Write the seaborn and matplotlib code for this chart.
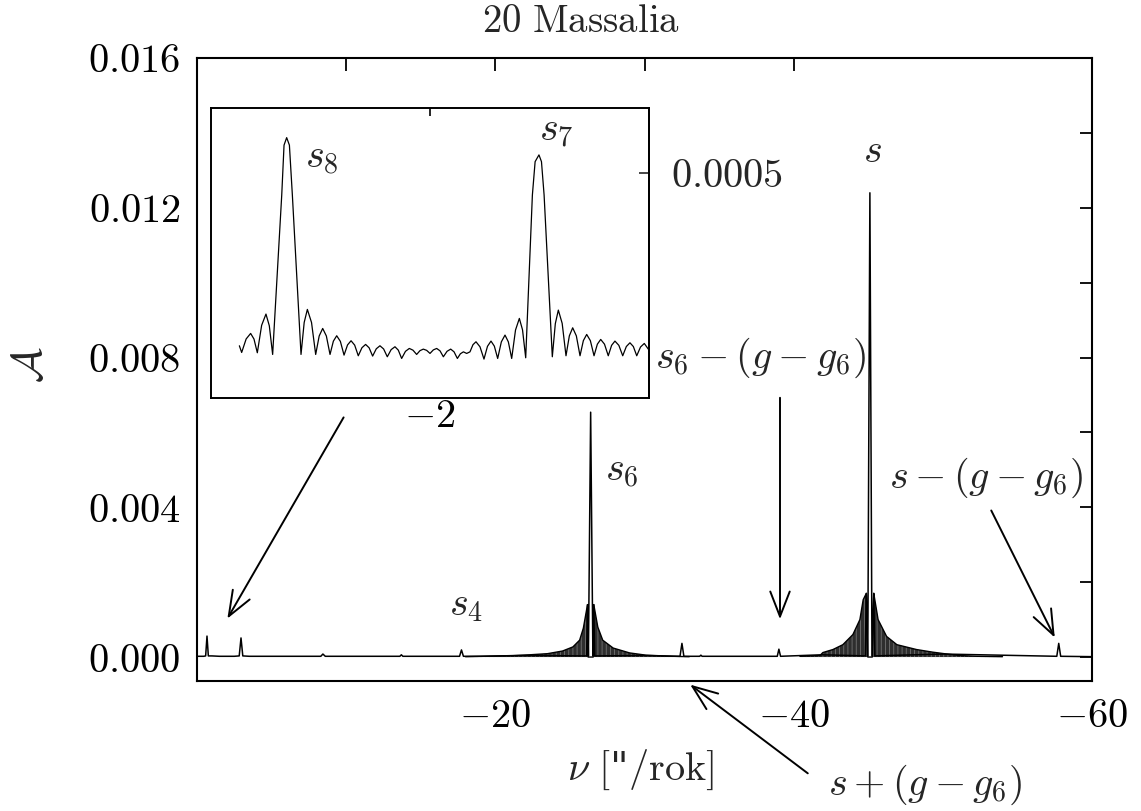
import numpy as np
import pandas as pd
import matplotlib
matplotlib.use("Agg")
import matplotlib.pyplot as plt
import seaborn as sns

# ---------------- data ----------------
# main spectrum line: frequency nu ["/rok] and amplitude A
main_nu = [0.0, -0.45, -0.58, -0.67, -0.76, -1.0, -1.5, -2.0, -2.5, -2.83, -2.95, -3.07,
           -3.5, -5.0, -8.3, -8.44, -8.6, -13.6, -13.7, -13.8, -17.6, -17.73, -17.86,
           -19.0, -22.0, -26.12, -26.18, -26.24, -26.39, -26.54, -26.60, -26.66,
           -30.0, -32.38, -32.51, -32.64, -33.7, -33.78, -33.86, -38.9, -39.01, -39.12,
           -41.9, -44.80, -44.87, -44.97, -45.11, -45.25, -45.37, -45.44, -50.0,
           -57.64, -57.77, -57.9, -60.0]
main_amp = [0.00002, 0.00002, 0.00003, 0.00056, 0.00003, 0.00003, 0.00002, 0.00002, 0.00002,
            0.00003, 0.00051, 0.00003, 0.00002, 0.00002, 0.00002, 0.00008, 0.00002, 0.00002,
            0.00006, 0.00002, 0.00002, 0.00019, 0.00002, 0.00002, 0.00004, 0.00003, 0.0014,
            0.00003, 0.00654, 0.00003, 0.0014, 0.00003, 0.00004, 0.00002, 0.000365, 0.00002,
            0.00002, 0.00005, 0.00002, 0.00002, 0.00021, 0.00002, 0.00006, 0.00003, 0.0017,
            0.00003, 0.0124, 0.00003, 0.0017, 0.00003, 0.00008, 0.00002, 0.000365, 0.00002,
            0.00001]

# envelope of the dense side-lobe region around s6
s6_env_nu = [-18.0, -19.0, -21.2, -22.3, -23.5, -24.5, -25.2, -25.65, -25.9, -26.18, -26.22,
             -26.56, -26.60, -26.87, -27.2, -27.9, -29.0, -30.1, -31.9, -33.0]
s6_env_amp = [0.00001, 0.00002, 0.00004, 0.00006, 0.00009, 0.00016, 0.00027, 0.00045, 0.00077,
              0.0014, 0.0, 0.0, 0.0014, 0.0008, 0.00045, 0.00024, 0.00011, 0.00005, 0.00002, 0.00001]

# envelope of the dense side-lobe region around s
s_env_nu = [-40.42, -41.76, -41.96, -42.63, -43.30, -43.97, -44.44, -44.66, -44.87, -44.97,
            -45.27, -45.37, -45.44, -45.66, -46.23, -46.92, -48.24, -49.33, -50.47, -51.14,
            -52.28, -54.0]
s_env_amp = [0.00002, 0.00004, 0.00012, 0.0002, 0.00033, 0.0006, 0.001, 0.00153, 0.0017, 0.0,
             0.0, 0.0017, 0.00153, 0.001, 0.00055, 0.00033, 0.0002, 0.00013, 0.00007, 0.00004,
             0.00002, 0.00001]

# inset: zoom on the s8 / s7 region (amplitudes in units of 1e-5)
inset_nu = [
    -0.259, -0.280, -0.321, -0.362, -0.3925, -0.423, -0.4625, -0.502, -0.5325, -0.563,
    -0.646, -0.667, -0.691, -0.716, -0.743, -0.822,
    -0.851, -0.880, -0.918, -0.956, -0.988, -1.020, -1.0535, -1.087,
    -1.1175, -1.148, -1.1815, -1.215, -1.247, -1.279, -1.312, -1.345,
    -1.3785, -1.412, -1.444, -1.476, -1.5095, -1.543, -1.5765, -1.610,
    -1.645, -1.680, -1.7105, -1.741, -1.776, -1.811, -1.8445, -1.878,
    -1.9085, -1.939, -1.9695, -2.000, -2.0305, -2.061, -2.0915, -2.122,
    -2.1555, -2.189, -2.2195, -2.250, -2.2775, -2.305, -2.335, -2.365,
    -2.3925, -2.420, -2.4565, -2.493, -2.525, -2.557, -2.5875, -2.618,
    -2.6515, -2.685, -2.7155, -2.746, -2.781, -2.816, -2.845, -2.874,
    -2.935, -2.960, -2.995, -3.018, -3.042, -3.117,
    -3.1445, -3.172, -3.207, -3.242, -3.2725, -3.303, -3.3365, -3.370,
    -3.4005, -3.431, -3.4645, -3.498, -3.5285, -3.559, -3.5935, -3.628,
    -3.6585, -3.689, -3.7245, -3.760, -3.793, -3.826, -3.857, -3.888,
    -3.9225, -3.957, -4.0]
inset_amp_e5 = [
    3.82, 2.04, 5.64, 7.11, 5.62, 1.96, 9.28, 12.27, 9.15, 1.51,
    44.0, 57.3, 59.3, 57.3, 44.0, 1.51,
    10.03, 13.51, 10.03, 1.51, 6.43, 8.44, 6.43, 1.51,
    5.05, 6.49, 4.99, 1.33, 4.05, 5.16, 4.00, 1.16,
    3.30, 4.18, 3.28, 1.07, 3.02, 3.82, 2.97, 0.89,
    2.79, 3.56, 2.66, 0.44, 2.34, 3.11, 2.65, 1.51,
    2.52, 2.93, 2.60, 1.78, 2.72, 3.11, 2.47, 0.89,
    2.34, 2.93, 2.21, 0.44, 1.69, 2.20, 1.78, 2.20,
    4.11, 4.89, 3.55, 0.27, 3.68, 5.07, 3.73, 0.44,
    4.86, 6.67, 4.86, 0.44, 8.02, 11.11, 8.07, 0.62,
    44.0, 52.9, 54.7, 52.9, 44.0, 0.89,
    9.72, 13.33, 9.80, 1.16, 6.46, 8.62, 6.46, 1.16,
    5.19, 6.84, 5.19, 1.16, 4.25, 5.51, 4.25, 1.16,
    3.94, 5.07, 3.94, 1.16, 3.62, 4.62, 3.62, 1.16,
    3.49, 4.44, 2.67]

x_ticks = [-10, -20, -30, -40, -60]
x_ticklabels = ["", "-20", "", "-40", "-60"]
y_ticks = [0.000, 0.002, 0.004, 0.006, 0.008, 0.010, 0.012, 0.014, 0.016]
y_ticklabels = ["0.000", "", "0.004", "", "0.008", "", "0.012", "", "0.016"]

# ---------------- style ----------------
sns.set_style("white")
plt.rcParams.update({
    "font.family": ["DejaVu Serif", "DejaVu Sans"],
    "mathtext.fontset": "cm",
    "axes.linewidth": 1.5,
    "xtick.direction": "in",
    "ytick.direction": "in",
    "hatch.linewidth": 0.6,
})

W, H = 1141, 811
fig = plt.figure(figsize=(W / 100, H / 100), dpi=100)


def fx(x):
    return x / W


def fy(y):
    return 1 - y / H


FS = 29

ax = fig.add_axes([fx(197), fy(681), fx(1092) - fx(197), fy(58) - fy(681)])
main_df = pd.DataFrame({"nu": main_nu, "A": main_amp})
for env_x, env_y in ((s6_env_nu, s6_env_amp), (s_env_nu, s_env_amp)):
    ax.fill_between(env_x, 0, env_y, facecolor="0.18", edgecolor="0.45",
                    hatch="||||", lw=0, zorder=2)
    ax.plot(env_x, env_y, color="black", lw=1.0, zorder=2)
sns.lineplot(data=main_df, x="nu", y="A", ax=ax, color="black", lw=1.1,
             estimator=None, sort=False, zorder=3)
ax.set_xlim(0, -60)
ax.set_ylim(-0.00064, 0.016)
for sp in ax.spines.values():
    sp.set_visible(True)
    sp.set_color("black")
    sp.set_linewidth(1.5)

ax.set_xticks(x_ticks)
ax.set_xticklabels([("$" + t + "$") if t else "" for t in x_ticklabels])
ax.set_yticks(y_ticks)
ax.set_yticklabels([("$" + t + "$") if t else "" for t in y_ticklabels])
ax.tick_params(axis="both", which="major", direction="in", length=9, width=1.3,
               top=True, right=True, labelsize=FS, colors="black")
ax.tick_params(axis="x", pad=12)
ax.tick_params(axis="y", pad=12)

ax.set_xlabel(r'$\nu\ [$"$/\mathrm{rok}]$', fontsize=FS, va="center")
ax.xaxis.set_label_coords((641 - 197) / 895, (681 - 770) / 623)
ax.set_ylabel(r"$\mathcal{A}$", fontsize=FS + 2, va="center", ha="center")
ax.yaxis.set_label_coords((30 - 197) / 895, (681 - 365) / 623)

fig.text(fx(581), fy(22), r"$\mathrm{20\ Massalia}$", fontsize=FS - 1, ha="center", va="center")

# ---------------- inset ----------------
axi = fig.add_axes([fx(211), fy(398), fx(649) - fx(211), fy(108) - fy(398)])
inset_df = pd.DataFrame({"nu": inset_nu, "A": np.array(inset_amp_e5) * 1e-5})
sns.lineplot(data=inset_df, x="nu", y="A", ax=axi, color="black", lw=0.9,
             estimator=None, sort=False)
axi.set_xlim(0, -4)
axi.set_ylim(-0.000101, 0.000672)
axi.set_facecolor("white")
for sp in axi.spines.values():
    sp.set_visible(True)
    sp.set_color("black")
    sp.set_linewidth(1.4)
axi.set_xlabel("")
axi.set_ylabel("")
axi.set_xticks([-2])
axi.set_xticklabels([r"$-2$"])
axi.set_yticks([0.0, 0.0002, 0.0004, 0.0006])
axi.tick_params(axis="both", direction="in", length=6, width=1.2, top=True,
                labelsize=FS, colors="black")
axi.tick_params(axis="x", pad=0)
axi.tick_params(axis="y", labelleft=False, right=False)
sec = axi.secondary_yaxis("right")
sec.set_yticks([0.0005])
sec.set_yticklabels([r"$0.0005$"])
sec.tick_params(direction="in", length=7, width=1.2, labelsize=FS, pad=16)
sec.spines["right"].set_linewidth(1.4)

# ---------------- annotations ----------------
labels = [
    (r"$s_8$", 322, 158),
    (r"$s_7$", 556, 131),
    (r"$s$", 872, 152),
    (r"$s_6-(g-g_6)$", 760, 358),
    (r"$s_6$", 622, 472),
    (r"$s-(g-g_6)$", 986, 478),
    (r"$s_4$", 466, 605),
    (r"$s+(g-g_6)$", 925, 785),
]
for txt, x, y in labels:
    fig.text(fx(x), fy(y), txt, fontsize=FS, ha="center", va="center")

arrows = [((345, 415), (226, 621)),
          ((780, 395), (780, 622)),
          ((990, 508), (1056, 640)),
          ((810, 775), (688, 683))]
for (x0, y0), (x1, y1) in arrows:
    fig.add_artist(matplotlib.patches.FancyArrowPatch(
        (fx(x0), fy(y0)), (fx(x1), fy(y1)), transform=fig.transFigure,
        arrowstyle="->,head_length=0.9,head_width=0.35", mutation_scale=20,
        lw=1.4, color="black"))

fig.savefig("out.png", dpi=100)
